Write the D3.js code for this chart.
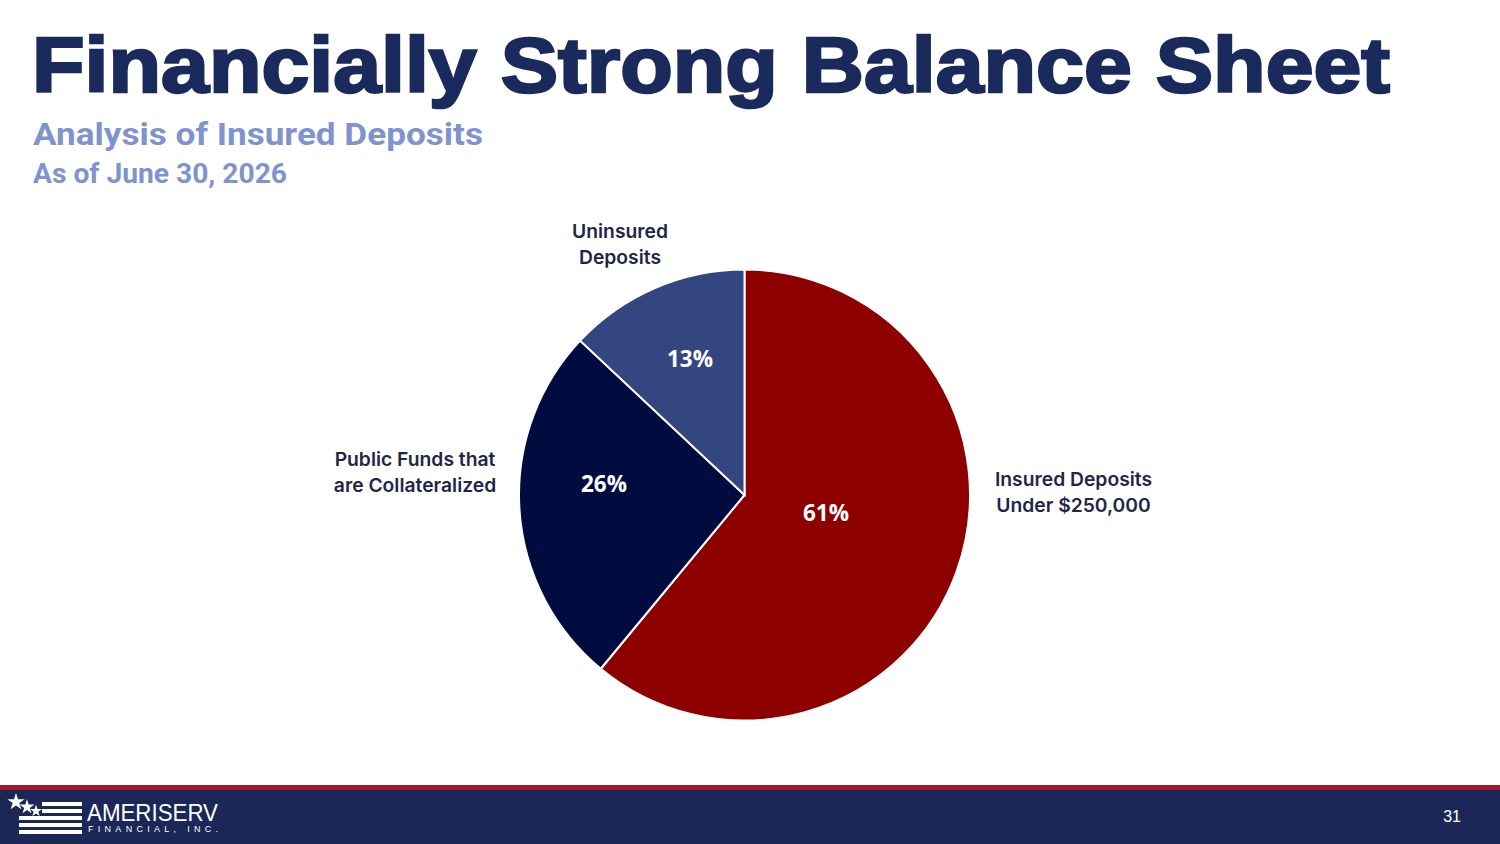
<!DOCTYPE html>
<html>
<head>
<meta charset="utf-8">
<script src="https://cdn.jsdelivr.net/npm/d3@7"></script>
<style>
  html, body { margin: 0; padding: 0; background: #fff; }
  svg { display: block; }
</style>
</head>
<body>
<svg id="slide"></svg>
<script>
// Chart data
const categories = ['Insured Deposits Under $250,000', 'Public Funds that are Collateralized', 'Uninsured Deposits'];
const values = [61, 26, 13];
const labelLines = [
    ['Insured Deposits', 'Under $250,000'],
    ['Public Funds that', 'are Collateralized'],
    ['Uninsured', 'Deposits']
];
const sliceColors = ['#8e0000', '#000c3f', '#34467f'];

const width = 1500;
const height = 844;

const svg = d3.select('#slide')
    .attr('width', width)
    .attr('height', height);

// Title
svg.append('text')
    .attr('x', 32)
    .attr('y', 92)
    .attr('font-family', 'Liberation Sans, Arial, sans-serif')
    .attr('font-weight', 700)
    .attr('font-size', '77px')
    .attr('fill', '#1b2a5c')
    .attr('stroke', '#1b2a5c')
    .attr('stroke-width', 2.5)
    .attr('textLength', 1358)
    .attr('lengthAdjust', 'spacingAndGlyphs')
    .text('Financially Strong Balance Sheet');

// Subtitles
svg.append('text')
    .attr('x', 33)
    .attr('y', 145)
    .attr('font-family', 'Roboto, sans-serif')
    .attr('font-weight', 700)
    .attr('font-size', '32px')
    .attr('fill', '#7f93cf')
    .attr('textLength', 450)
    .attr('lengthAdjust', 'spacingAndGlyphs')
    .text('Analysis of Insured Deposits');

svg.append('text')
    .attr('x', 33)
    .attr('y', 183)
    .attr('font-family', 'Roboto, sans-serif')
    .attr('font-weight', 700)
    .attr('font-size', '28px')
    .attr('fill', '#7f93cf')
    .attr('textLength', 254)
    .attr('lengthAdjust', 'spacingAndGlyphs')
    .text('As of June 30, 2026');

// Pie
const cx = 744.5;
const cy = 495;
const radius = 225.5;

const pie = d3.pie().sort(null).value(d => d);
const arcs = pie(values);

const arc = d3.arc().innerRadius(0).outerRadius(radius);

const g = svg.append('g').attr('transform', `translate(${cx}, ${cy})`);

g.selectAll('path')
    .data(arcs)
    .enter()
    .append('path')
    .attr('d', arc)
    .attr('fill', (d, i) => sliceColors[i])
    .attr('stroke', '#ffffff')
    .attr('stroke-width', 2);

// Label placement (offsets from pie centre, like the slide's manual placement)
const pctOffset = [[81.5, 18], [-140.5, -11], [-54.5, -136]];
const catOffset = [[329, -3], [-329.5, -23.5], [-124.5, -251]];

// Percent labels inside slices
g.selectAll('.pct')
    .data(arcs)
    .enter()
    .append('text')
    .attr('class', 'pct')
    .attr('transform', (d, i) => `translate(${pctOffset[i][0]}, ${pctOffset[i][1]})`)
    .attr('text-anchor', 'middle')
    .attr('dy', '0.36em')
    .attr('font-family', 'Open Sans, sans-serif')
    .attr('font-weight', 700)
    .attr('font-size', '22.5px')
    .attr('fill', '#ffffff')
    .text(d => d.data + '%');

// Category labels outside the pie
g.selectAll('.cat')
    .data(arcs)
    .enter()
    .append('text')
    .attr('class', 'cat')
    .attr('transform', (d, i) => `translate(${catOffset[i][0]}, ${catOffset[i][1]})`)
    .attr('text-anchor', 'middle')
    .attr('font-family', 'Inter, sans-serif')
    .attr('font-weight', 600)
    .attr('font-size', '19.3px')
    .attr('fill', '#1f2647')
    .each(function(d, i) {
        const t = d3.select(this);
        labelLines[i].forEach((line, j) => {
            t.append('tspan')
                .attr('x', 0)
                .attr('dy', j == 0 ? '-0.3em' : '1.35em')
                .text(line);
        });
    });

// Footer band
svg.append('rect')
    .attr('x', 0).attr('y', 785)
    .attr('width', width).attr('height', 5)
    .attr('fill', '#9a1a2c');
svg.append('rect')
    .attr('x', 0).attr('y', 790)
    .attr('width', width).attr('height', height - 790)
    .attr('fill', '#1b2756');

// Logo: stars and stripes
const logo = svg.append('g').attr('transform', 'translate(0, 790)');
const stars = [[16, 12, 6.5], [27, 17, 5.5], [36, 21, 4.5]];
stars.forEach(s => {
    logo.append('path')
        .attr('d', d3.symbol().type(d3.symbolStar).size(s[2] * s[2] * 2.2)())
        .attr('transform', `translate(${s[0]}, ${s[1]})`)
        .attr('fill', '#ffffff');
});
const stripes = [[42, 12], [42, 19], [19, 26], [19, 33], [19, 40]];
stripes.forEach(s => {
    logo.append('rect')
        .attr('x', s[0]).attr('y', s[1])
        .attr('width', 82 - s[0]).attr('height', 4)
        .attr('fill', '#ffffff');
});
logo.append('text')
    .attr('x', 87).attr('y', 31)
    .attr('font-family', 'Liberation Sans, Arial, sans-serif')
    .attr('font-size', '24px')
    .attr('fill', '#ffffff')
    .attr('textLength', 131)
    .attr('lengthAdjust', 'spacingAndGlyphs')
    .text('AMERISERV');
logo.append('text')
    .attr('x', 88).attr('y', 42)
    .attr('font-family', 'Liberation Sans, Arial, sans-serif')
    .attr('font-size', '9px')
    .attr('fill', '#ffffff')
    .attr('textLength', 130)
    .attr('lengthAdjust', 'spacing')
    .text('FINANCIAL, INC.');

// Page number
svg.append('text')
    .attr('x', 1461).attr('y', 822)
    .attr('text-anchor', 'end')
    .attr('font-family', 'Liberation Sans, Arial, sans-serif')
    .attr('font-size', '16px')
    .attr('fill', '#ffffff')
    .text('31');
</script>
</body>
</html>
